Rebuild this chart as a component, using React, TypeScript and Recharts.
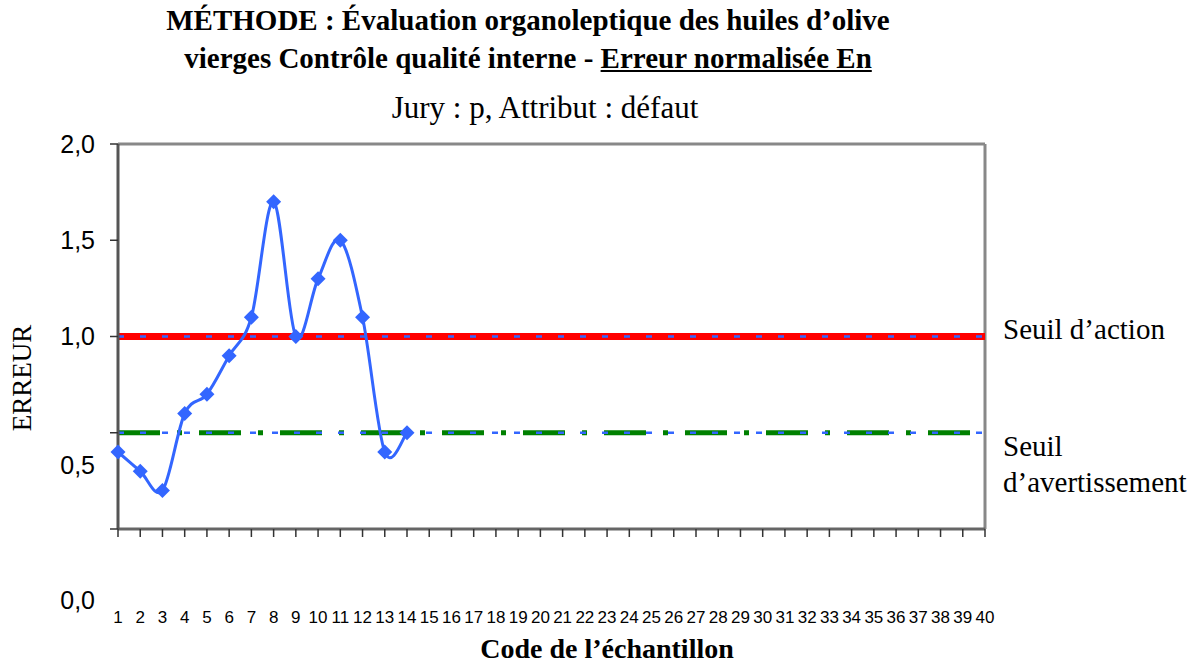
import React from 'react';
import { LineChart, Line, XAxis, YAxis, ReferenceLine } from 'recharts';

// codes des échantillons (axe X)
const codes = [
  1, 2, 3, 4, 5, 6, 7, 8, 9, 10, 11, 12, 13, 14, 15, 16, 17, 18, 19, 20,
  21, 22, 23, 24, 25, 26, 27, 28, 29, 30, 31, 32, 33, 34, 35, 36, 37, 38, 39, 40,
];
const erreur = [0.4, 0.3, 0.2, 0.6, 0.7, 0.9, 1.1, 1.7, 1.0, 1.3, 1.5, 1.1, 0.4, 0.5];
const seuilAction = 1.0;
const seuilAvertissement = 0.5;
const yTicks = [0, 0.5, 1, 1.5, 2];

const data = codes.map((code, i) => ({ code, erreur: i < erreur.length ? erreur[i] : null }));

const serif = "'Liberation Serif', 'Times New Roman', serif";
const sans = "'Liberation Sans', Arial, sans-serif";
const blue = '#3366ff';

// lissage type Excel (Catmull-Rom)
const excelSmooth = (context: any) => {
  let pts: number[][] = [];
  return {
    areaStart() {},
    areaEnd() {},
    lineStart() {
      pts = [];
    },
    point(x: number, y: number) {
      pts.push([+x, +y]);
    },
    lineEnd() {
      if (!pts.length) return;
      context.moveTo(pts[0][0], pts[0][1]);
      for (let i = 0; i < pts.length - 1; i++) {
        const p0 = pts[i - 1] || pts[i];
        const p1 = pts[i];
        const p2 = pts[i + 1];
        const p3 = pts[i + 2] || p2;
        context.bezierCurveTo(
          p1[0] + (p2[0] - p0[0]) / 6,
          p1[1] + (p2[1] - p0[1]) / 6,
          p2[0] - (p3[0] - p1[0]) / 6,
          p2[1] - (p3[1] - p1[1]) / 6,
          p2[0],
          p2[1]
        );
      }
    },
  };
};

const Diamond = (props: any) => {
  const { cx, cy, index } = props;
  if (cx == null || cy == null || props.value == null) return <g key={index} />;
  const r = 7.5;
  return (
    <path
      key={index}
      d={`M${cx},${cy - r} L${cx + r},${cy} L${cx},${cy + r} L${cx - r},${cy} Z`}
      fill={blue}
    />
  );
};

// les libellés 0,5 et 0,0 sont décalés vers le bas dans l'original
const YTick = (props: any) => {
  const { x, y, payload } = props;
  const v = payload.value;
  const shift = v === 0 ? 71 : v === 0.5 ? 32 : 0;
  return (
    <text x={x} y={y + shift} dy="0.355em" textAnchor="end" fontSize={25} fontFamily={sans} fill="#000">
      {v.toFixed(1).replace('.', ',')}
    </text>
  );
};

const App = () => {
  return (
    <div style={{ position: 'absolute', left: 0, top: 0, width: 1200, height: 667, background: '#fff' }}>
      <div
        style={{
          position: 'absolute', left: 0, top: 1, width: 1056, textAlign: 'center',
          fontFamily: serif, fontWeight: 'bold', fontSize: 29, lineHeight: '38px',
        }}
      >
        MÉTHODE : Évaluation organoleptique des huiles d’olive
        <br />
        vierges Contrôle qualité interne - <u>Erreur normalisée En</u>
      </div>
      <div
        style={{
          position: 'absolute', left: 0, top: 90, width: 1090, textAlign: 'center',
          fontFamily: serif, fontSize: 31, lineHeight: '36px',
        }}
      >
        Jury : p, Attribut : défaut
      </div>

      <LineChart width={1200} height={667} data={data} margin={{ top: 144, right: 215, bottom: 38, left: 18 }}>
        <ReferenceLine y={2} stroke="#888" strokeWidth={3} />
        <ReferenceLine x={40} stroke="#888" strokeWidth={3} />
        <XAxis
          dataKey="code"
          type="category"
          interval={0}
          height={100}
          tickSize={8}
          tickMargin={74}
          axisLine={{ stroke: '#666', strokeWidth: 3 }}
          tickLine={{ stroke: '#333', strokeWidth: 1.5 }}
          tick={{ fontSize: 17, fontFamily: sans, fill: '#000' }}
        />
        <YAxis
          type="number"
          domain={[0, 2]}
          ticks={yTicks}
          width={100}
          tickSize={8}
          tickMargin={15}
          axisLine={{ stroke: '#555', strokeWidth: 3 }}
          tickLine={{ stroke: '#333', strokeWidth: 1.5 }}
          tick={<YTick />}
        />
        <ReferenceLine y={seuilAction} stroke="#ff0000" strokeWidth={7} />
        <ReferenceLine y={seuilAction} stroke={blue} strokeWidth={2.5} strokeDasharray="6 16" />
        <ReferenceLine y={seuilAvertissement} stroke="#008000" strokeWidth={5} strokeDasharray="42 17 5 17" />
        <ReferenceLine y={seuilAvertissement} stroke={blue} strokeWidth={2.5} strokeDasharray="6 16" />
        <Line
          dataKey="erreur"
          type={excelSmooth as any}
          stroke={blue}
          strokeWidth={3}
          dot={Diamond}
          activeDot={false}
          isAnimationActive={false}
        />
      </LineChart>

      <div style={{ position: 'absolute', left: 1003, top: 311, fontFamily: serif, fontSize: 29, lineHeight: '36px', whiteSpace: 'nowrap' }}>
        Seuil d’action
      </div>
      <div style={{ position: 'absolute', left: 1003, top: 428, fontFamily: serif, fontSize: 29, lineHeight: '36px', whiteSpace: 'nowrap' }}>
        Seuil
        <br />
        d’avertissement
      </div>
      <div
        style={{
          position: 'absolute', left: 22, top: 378, transform: 'translate(-50%, -50%) rotate(-90deg)',
          fontFamily: serif, fontSize: 27, whiteSpace: 'nowrap',
        }}
      >
        ERREUR
      </div>
      <div
        style={{
          position: 'absolute', left: 607, top: 649, transform: 'translate(-50%, -50%)',
          fontFamily: serif, fontWeight: 'bold', fontSize: 28, lineHeight: '30px', whiteSpace: 'nowrap',
        }}
      >
        Code de l’échantillon
      </div>
    </div>
  );
};

export default App;
